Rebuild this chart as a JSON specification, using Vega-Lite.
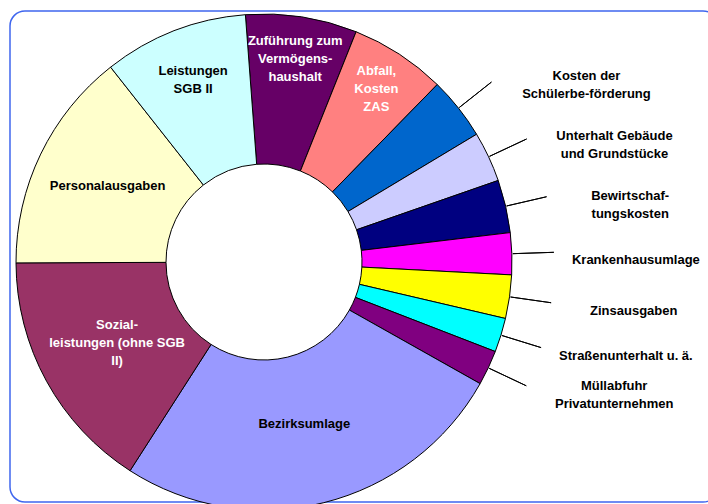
{
  "$schema": "https://vega.github.io/schema/vega-lite/v6.json",
  "width": 708,
  "height": 491,
  "padding": {"left": 10, "top": 11, "right": -10, "bottom": 2},
  "autosize": {"type": "none"},
  "background": "white",
  "view": {"stroke": "#3F66EE", "strokeWidth": 1.5, "cornerRadius": 15},
  "config": {
    "view": {"stroke": "#3F66EE", "strokeWidth": 1.5, "cornerRadius": 15},
    "text": {"font": "Liberation Sans", "fontWeight": "bold", "fontSize": 13, "lineHeight": 18}
  },
  "data": {
    "values": [
      {"k": "Zuführung zum Vermögenshaushalt", "label": ["Zuführung zum", "Vermögens-", "haushalt"], "v": 7.25, "ord": 1},
      {"k": "Abfall, Kosten ZAS", "label": ["Abfall,", "Kosten", "ZAS"], "v": 6.25, "ord": 2},
      {"k": "Kosten der Schülerbeförderung", "label": ["Kosten der", "Schülerbe-förderung"], "v": 4.08, "ord": 3},
      {"k": "Unterhalt Gebäude und Grundstücke", "label": ["Unterhalt Gebäude", "und Grundstücke"], "v": 3.28, "ord": 4},
      {"k": "Bewirtschaftungskosten", "label": ["Bewirtschaf-", "tungskosten"], "v": 3.44, "ord": 5},
      {"k": "Krankenhausumlage", "label": ["Krankenhausumlage"], "v": 2.72, "ord": 6},
      {"k": "Zinsausgaben", "label": ["Zinsausgaben"], "v": 2.83, "ord": 7},
      {"k": "Straßenunterhalt u. ä.", "label": ["Straßenunterhalt u. ä."], "v": 2.22, "ord": 8},
      {"k": "Müllabfuhr Privatunternehmen", "label": ["Müllabfuhr", "Privatunternehmen"], "v": 2.28, "ord": 9},
      {"k": "Bezirksumlage", "label": ["Bezirksumlage"], "v": 25.92, "ord": 10},
      {"k": "Sozialleistungen (ohne SGB II)", "label": ["Sozial-", "leistungen (ohne SGB", "II)"], "v": 15.86, "ord": 11},
      {"k": "Personalausgaben", "label": ["Personalausgaben"], "v": 14.44, "ord": 12},
      {"k": "Leistungen SGB II", "label": ["Leistungen", "SGB II"], "v": 9.42, "ord": 13}
    ]
  },
  "resolve": {"scale": {"theta": "independent"}},
  "layer": [
    {
      "mark": {"type": "arc", "outerRadius": 248, "innerRadius": 98, "stroke": "black", "strokeWidth": 1, "x": 254, "y": 251},
      "encoding": {
        "theta": {"field": "v", "type": "quantitative", "stack": true, "scale": {"range": [-0.07505, 6.20814]}},
        "order": {"field": "ord", "type": "quantitative"},
        "color": {
          "field": "k", "type": "nominal", "legend": null,
          "scale": {
            "domain": ["Zuführung zum Vermögenshaushalt", "Abfall, Kosten ZAS", "Kosten der Schülerbeförderung", "Unterhalt Gebäude und Grundstücke", "Bewirtschaftungskosten", "Krankenhausumlage", "Zinsausgaben", "Straßenunterhalt u. ä.", "Müllabfuhr Privatunternehmen", "Bezirksumlage", "Sozialleistungen (ohne SGB II)", "Personalausgaben", "Leistungen SGB II"],
            "range": ["#660066", "#FF8080", "#0066CC", "#CCCCFF", "#000080", "#FF00FF", "#FFFF00", "#00FFFF", "#800080", "#9999FF", "#993366", "#FFFFCC", "#CCFFFF"]
          }
        }
      }
    },
    {
      "mark": {"type": "arc", "filled": false, "stroke": "black", "strokeWidth": 1, "outerRadius": 290, "innerRadius": 249, "padAngle": 0.6, "x": 254, "y": 251},
      "encoding": {
        "theta": {"field": "v", "type": "quantitative", "stack": true, "scale": {"range": [-0.07505, 6.20814]}},
        "order": {"field": "ord", "type": "quantitative"},
        "strokeOpacity": {"condition": {"test": "datum.v < 5", "value": 1}, "value": 0}
      }
    },
    {
      "mark": {"type": "text", "x": 254, "y": 251, "align": "center", "baseline": "middle"},
      "encoding": {
        "theta": {"field": "v", "type": "quantitative", "stack": true, "scale": {"range": [-0.07505, 6.20814]}},
        "radius": {"field": "v", "type": "quantitative", "scale": {"type": "linear", "domain": [7, 16], "range": [206, 167], "clamp": true, "zero": false}},
        "order": {"field": "ord", "type": "quantitative"},
        "text": {"field": "label"},
        "opacity": {"condition": {"test": "datum.v >= 5 && length(datum.label) == 1", "value": 1}, "value": 0},
        "color": {"condition": {"test": "indexof(['Zuführung zum Vermögenshaushalt', 'Abfall, Kosten ZAS', 'Sozialleistungen (ohne SGB II)'], datum.k) >= 0", "value": "white"}, "value": "black"}
      }
    },
    {
      "mark": {"type": "text", "x": 254, "y": 251, "dy": -9, "align": "center", "baseline": "middle"},
      "encoding": {
        "theta": {"field": "v", "type": "quantitative", "stack": true, "scale": {"range": [-0.07505, 6.20814]}},
        "radius": {"field": "v", "type": "quantitative", "scale": {"type": "linear", "domain": [7, 16], "range": [206, 167], "clamp": true, "zero": false}},
        "order": {"field": "ord", "type": "quantitative"},
        "text": {"field": "label"},
        "opacity": {"condition": {"test": "datum.v >= 5 && length(datum.label) == 2", "value": 1}, "value": 0},
        "color": {"condition": {"test": "indexof(['Zuführung zum Vermögenshaushalt', 'Abfall, Kosten ZAS', 'Sozialleistungen (ohne SGB II)'], datum.k) >= 0", "value": "white"}, "value": "black"}
      }
    },
    {
      "mark": {"type": "text", "x": 254, "y": 251, "dy": -18, "align": "center", "baseline": "middle"},
      "encoding": {
        "theta": {"field": "v", "type": "quantitative", "stack": true, "scale": {"range": [-0.07505, 6.20814]}},
        "radius": {"field": "v", "type": "quantitative", "scale": {"type": "linear", "domain": [7, 16], "range": [206, 167], "clamp": true, "zero": false}},
        "order": {"field": "ord", "type": "quantitative"},
        "text": {"field": "label"},
        "opacity": {"condition": {"test": "datum.v >= 5 && length(datum.label) == 3", "value": 1}, "value": 0},
        "color": {"condition": {"test": "indexof(['Zuführung zum Vermögenshaushalt', 'Abfall, Kosten ZAS', 'Sozialleistungen (ohne SGB II)'], datum.k) >= 0", "value": "white"}, "value": "black"}
      }
    },
    {
      "mark": {"type": "text", "x": 254, "y": 259, "radius": 372, "align": "center", "baseline": "middle", "color": "black"},
      "encoding": {
        "theta": {"field": "v", "type": "quantitative", "stack": true, "scale": {"range": [0.2871, 5.188]}},
        "order": {"field": "ord", "type": "quantitative"},
        "text": {"field": "label"},
        "opacity": {"condition": {"test": "datum.v < 5 && length(datum.label) == 1", "value": 1}, "value": 0}
      }
    },
    {
      "mark": {"type": "text", "x": 254, "y": 259, "dy": -9, "radius": 372, "align": "center", "baseline": "middle", "color": "black"},
      "encoding": {
        "theta": {"field": "v", "type": "quantitative", "stack": true, "scale": {"range": [0.2871, 5.188]}},
        "order": {"field": "ord", "type": "quantitative"},
        "text": {"field": "label"},
        "opacity": {"condition": {"test": "datum.v < 5 && length(datum.label) == 2", "value": 1}, "value": 0}
      }
    }
  ]
}
